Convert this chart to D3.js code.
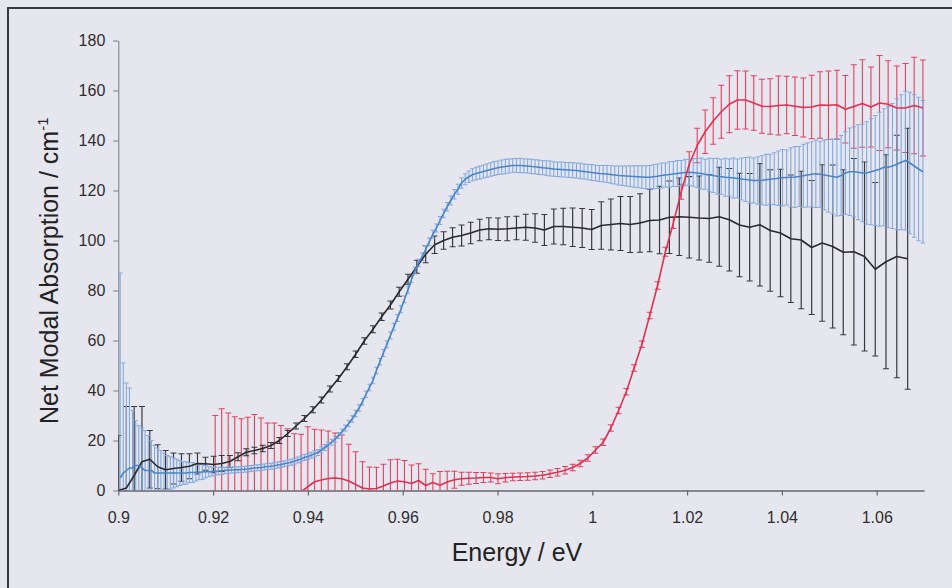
<!DOCTYPE html>
<html>
<head>
<meta charset="utf-8">
<script src="https://cdn.jsdelivr.net/npm/d3@7"></script>
<style>
  html, body { margin: 0; padding: 0; background: #e6e6ef; }
  svg { display: block; font-family: "Liberation Sans", Arial, sans-serif; }
</style>
</head>
<body>
<svg id="chart" width="952" height="588"></svg>
<script>
// Photon energy (eV) from wavelength (nm)
const HC = 1239.84;

// Axis ticks
const energyTicks = [0.9, 0.92, 0.94, 0.96, 0.98, 1, 1.02, 1.04, 1.06];
const absorptionTicks = [0, 20, 40, 60, 80, 100, 120, 140, 160, 180];

// Black series: measured every 2.5 nm
const blackWavelength = d3.range(1377.5, 1160, -2.5);
const blackMean = [
  0, 1, 6, 11.5, 12.5, 9.5, 8.3, 8.8, 9.2, 9.7,
  10.8, 10.7, 10.4, 10.8, 11.6, 13.5, 15.3, 16, 16.8, 18,
  20, 22.8, 25.8, 28.8, 32.3, 36.2, 40.6, 44.8, 49.5, 54.5,
  59.8, 64.5, 69.5, 74.2, 79.5, 84.5, 89.5, 94.5, 98.3, 100,
  101.3, 102, 103, 104.2, 104.7, 104.5, 104.7, 105, 105.3, 105,
  104.2, 105.6, 105.6, 105.3, 105, 104.4, 106, 106.4, 106.8, 106.4,
  107, 108, 108.2, 109.3, 109.5, 109.3, 109, 108.8, 109.5, 108.3,
  106.2, 105.3, 106.3, 104, 103, 100.7, 100.2, 97.2, 99, 97.6,
  95.3, 95.5, 93.6, 88.5, 91.5, 93.6, 92.7
];
const blackError = [
  22, 32.6, 27.6, 22.1, 11.5, 8.8, 7.7, 6.2, 5.5, 5,
  4.2, 2.6, 3.3, 3.2, 2.4, 1.6, 1.4, 1.3, 1.3, 1.2,
  1.2, 1.2, 1.2, 1.2, 1.2, 1.2, 1.2, 1.2, 1.2, 1.3,
  1.3, 1.4, 1.5, 1.6, 1.8, 2.0, 2.6, 3.4, 3.5, 3.5,
  3.8, 4.2, 4.3, 4.3, 4.4, 4.5, 4.8, 4.7, 5.2, 5.7,
  6.2, 7, 7.3, 7.7, 7.8, 8, 9.5, 10.2, 10.8, 11.2,
  11.7, 12.5, 13.5, 14.5, 15.5, 16.3, 16.8, 17.5, 19.8, 20.5,
  20.7, 21.5, 24.5, 24.3, 25.5, 25.5, 27.5, 26.8, 31.3, 32.6,
  33, 37.3, 37.8, 34.7, 42.8, 48.5, 52.2
];

// Blue series: measured every 1 nm
const blueWavelength = d3.range(1377, 1158, -1);
const blueMean = [
  5, 7, 8, 9, 9, 10, 10, 9, 8, 8,
  8, 7, 7, 7, 7, 7, 7, 7, 7, 7,
  7, 7, 7.2, 7.2, 7.3, 7.3, 7.4, 7.5, 7.5, 7.6,
  7.7, 7.8, 7.9, 8, 8.1, 8.2, 8.3, 8.3, 8.4, 8.5,
  8.6, 8.8, 9, 9.1, 9.2, 9.4, 9.6, 9.7, 9.9, 10.2,
  10.4, 10.7, 11, 11.3, 11.7, 12.2, 12.6, 13.2, 13.6, 14.1,
  14.7, 15.2, 16.2, 17.2, 18.2, 19.3, 20.5, 22, 23.4, 25,
  26.8, 28.6, 30.8, 33, 35.5, 38.5, 41.2, 44, 48, 51.5,
  55, 58.5, 62, 65.5, 69, 72.5, 76.5, 80.3, 84.5, 88,
  91, 93.5, 96.5, 99.5, 102.5, 105, 108, 110.8, 113.5, 116,
  118.5, 120.5, 123, 124.5, 125.5, 126.3, 126.8, 127.2, 127.6, 128,
  128.4, 128.8, 129.1, 129.4, 129.6, 129.8, 130, 130, 130, 129.9,
  129.8, 129.6, 129.5, 129.3, 129.1, 129, 128.8, 128.6, 128.5, 128.4,
  128.3, 128.2, 128.1, 128, 127.8, 127.6, 127.4, 127.2, 127, 126.8,
  126.7, 126.6, 126.4, 126.2, 126, 125.9, 125.8, 125.7, 125.6, 125.5,
  125.4, 125.3, 125.3, 125.5, 125.7, 126, 126.2, 126.4, 126.6, 126.8,
  127, 127.2, 127.3, 127.2, 127, 126.8, 126.5, 126.3, 126, 125.7,
  125.5, 125.3, 125.2, 125, 124.8, 124.6, 124.4, 124.2, 124, 124,
  124.1, 124.3, 124.5, 124.7, 124.9, 125.1, 125.2, 125.3, 125.4, 125.6,
  125.9, 126.2, 126.5, 126.7, 126.5, 126.2, 125.9, 125.6, 125.3, 126,
  127, 127.5, 127.5, 127.3, 127, 127, 127.5, 128, 128.5, 129.3,
  129.3, 129.8, 130.5, 131.3, 132, 131, 129.8, 128.6, 127.5
];
const blueError = [
  82, 44, 35, 32, 23, 18, 16, 16, 16, 14,
  12, 11, 10, 9, 8, 7, 6.5, 6, 5.5, 5,
  4.5, 4.5, 4, 4, 3.5, 3, 3, 2.5, 2, 1.8,
  1.6, 1.5, 1.4, 1.3, 1.3, 1.2, 1.2, 1.2, 1.2, 1.2,
  1.2, 1.2, 1.2, 1.2, 1.2, 1.2, 1.2, 1.2, 1.2, 1.2,
  1.2, 1.2, 1.2, 1.2, 1.2, 1.2, 1.2, 1.2, 1.2, 1.2,
  1.2, 1.2, 1.2, 1.2, 1.2, 1.2, 1.2, 1.2, 1.2, 1.2,
  1.3, 1.3, 1.3, 1.3, 1.3, 1.3, 1.3, 1.3, 1.3, 1.3,
  1.4, 1.4, 1.4, 1.4, 1.4, 1.4, 1.4, 1.4, 1.4, 1.4,
  1.5, 1.5, 1.5, 1.5, 1.6, 1.6, 1.6, 1.7, 1.7, 1.8,
  1.9, 2, 2.1, 2.2, 2.3, 2.4, 2.5, 2.6, 2.6, 2.7,
  2.7, 2.8, 2.7, 2.8, 2.9, 2.8, 2.7, 2.8, 2.9, 2.8,
  2.8, 2.9, 2.8, 2.9, 2.8, 2.9, 3, 2.9, 2.9, 3,
  2.9, 3, 3, 3, 3.1, 3, 3.1, 3.2, 3.1, 3.2,
  3.3, 3.4, 3.5, 3.6, 3.8, 3.9, 4, 4.2, 4.3, 4.4,
  4.5, 4.6, 4.7, 4.8, 4.9, 5, 4.8, 5.1, 5, 5.2,
  5, 5.3, 5.1, 5.5, 5.8, 6.2, 6, 6.6, 6.8, 7.2,
  7, 7.6, 7.4, 8, 7.8, 8.4, 8.8, 9.2, 9, 9.5,
  9.8, 10.2, 10, 10.4, 10.9, 11.3, 11, 11.8, 12.2, 12,
  12.6, 12.8, 13, 13.5, 13.2, 14, 14.6, 15, 15.5, 16,
  16.5, 17.5, 18, 19, 19.5, 20.5, 21.2, 22, 22.8, 23.4,
  24.2, 25, 26.2, 27, 27.8, 28.3, 28.5, 28.7, 28.5
];

// Red series: measured every 2 nm
const redWavelength = d3.range(1347, 1158, -2);
const redMean = [
  -1, -1, -1, -1, -1, -1, -1, -1, -1, -1,
  -1, -1, -1, -0.5, 1.5, 3.5, 4.2, 4.8, 5, 4.7,
  3.8, 2.4, 1, 0.6, 0.8, 1.8, 3, 3.8, 3.5, 2.8,
  4, 2, 3.2, 2.1, 3.4, 4.3, 4.7, 4.9, 5, 5.2,
  5.2, 4.7, 5.1, 5.4, 5.5, 5.6, 5.8, 6.1, 6.7, 7.3,
  8.1, 9.2, 10.8, 13, 16.2, 19.3, 25, 32, 39.5, 49,
  58.5, 70, 82, 95.5, 107, 119.5, 130.5, 138, 143.5, 147.8,
  151.5, 154.5, 156.2, 156.2, 155, 153.7, 153.6, 154, 154.2, 153.7,
  153.2, 153.4, 154.2, 154.1, 154.3, 152.5, 153.6, 154.8, 153.4, 155,
  154.5, 153, 153, 154, 153
];
const redError = [
  31, 33.7, 32, 30.5, 29.7, 30.3, 31.4, 30, 28, 28,
  27, 25.7, 23.7, 23, 24, 21, 20, 19, 18, 17.5,
  14.7, 13.1, 10.5, 8.8, 8.5, 8.7, 9.3, 8.7, 8.5, 7.4,
  6.7, 6.5, 3.5, 5.5, 4.3, 3.4, 2.6, 2.4, 2.2, 2,
  1.8, 2, 1.7, 1.5, 1.5, 1.5, 1.5, 1.5, 1.5, 1.5,
  1.5, 1.3, 1.3, 1.3, 1.3, 1.3, 1.3, 1.3, 1.3, 1.3,
  1.3, 1.3, 1.5, 1.8, 2.2, 3, 5, 6.9, 8.7, 9.3,
  10.6, 11.4, 11.7, 11.6, 10.9, 10.8, 11.1, 11.8, 11.5, 11.7,
  11.8, 12.7, 13.3, 13.7, 13.8, 13.5, 16.7, 17.5, 16, 19,
  17.4, 16.8, 17.8, 19.3, 19.2
];

const svg = d3.select("#chart");
const W = 952, H = 588;

// Page background and frame
svg.append("rect").attr("width", W).attr("height", H).attr("fill", "#e6e6ef");
svg.append("path").attr("d", "M8,588V8H952")
  .attr("fill", "none").attr("stroke", "#3c3c40").attr("stroke-width", 2);

const x = d3.scaleLinear().domain([0.9, 1.07]).range([118.3, 924.1]);
const y = d3.scaleLinear().domain([0, 180]).range([490.5, 40.5]);

// Clip data marks to the plot area
svg.append("clipPath").attr("id", "plotClip")
  .append("rect").attr("x", x(0.9)).attr("y", y(180))
  .attr("width", x(1.07) - x(0.9) + 4).attr("height", y(0) - y(180));

// Axes
const yAxis = svg.append("g").attr("transform", `translate(${x(0.9)},0)`)
  .call(d3.axisLeft(y).tickValues(absorptionTicks).tickSize(5).tickSizeOuter(0).tickPadding(8));
yAxis.select(".domain").attr("stroke", "#8a8a90").attr("stroke-width", 1.2);
yAxis.selectAll(".tick line").attr("stroke", "#8a8a90").attr("stroke-width", 1.2);
yAxis.selectAll(".tick text").attr("font-size", 16).attr("fill", "#2e2e2e")
  .attr("font-family", "Liberation Sans, Arial, sans-serif");

const xAxis = svg.append("g").attr("transform", `translate(0,${y(0)})`)
  .call(d3.axisBottom(x).tickValues(energyTicks).tickFormat(d => String(d))
    .tickSize(5).tickSizeOuter(0).tickPadding(16));
xAxis.select(".domain").attr("stroke", "#66666c").attr("stroke-width", 1.6);
xAxis.selectAll(".tick line").attr("stroke", "#66666c").attr("stroke-width", 1.2);
xAxis.selectAll(".tick text").attr("font-size", 16).attr("fill", "#2e2e2e")
  .attr("font-family", "Liberation Sans, Arial, sans-serif");

// Axis titles
svg.append("text")
  .attr("x", 517).attr("y", 561)
  .attr("text-anchor", "middle").attr("font-size", 25).attr("fill", "#222")
  .text("Energy / eV");

const yTitle = svg.append("text")
  .attr("transform", "translate(58,424) rotate(-90)")
  .attr("text-anchor", "start").attr("font-size", 25).attr("fill", "#222");
yTitle.append("tspan").text("Net Modal Absorption / cm");
yTitle.append("tspan").attr("dy", -10).attr("font-size", 15).text("-1");

// Series
function toPoints(wl, mean, err) {
  return wl.map((l, i) => ({ e: HC / l, v: mean[i], d: err[i] }));
}
const blackPts = toPoints(blackWavelength, blackMean, blackError);
const bluePts = toPoints(blueWavelength, blueMean, blueError);
const redPts = toPoints(redWavelength, redMean, redError);

const plot = svg.append("g").attr("clip-path", "url(#plotClip)");

function errorBars(pts, color, width, cap) {
  plot.append("g")
    .attr("fill", "none").attr("stroke", color).attr("stroke-width", width)
    .selectAll("path").data(pts).join("path")
    .attr("d", p => {
      const X = x(p.e), lo = y(p.v - p.d), hi = y(p.v + p.d);
      return `M${X},${lo}V${hi}M${X - cap},${hi}H${X + cap}M${X - cap},${lo}H${X + cap}`;
    });
}
function meanLine(pts, color, width) {
  plot.append("path").datum(pts)
    .attr("fill", "none").attr("stroke", color).attr("stroke-width", width)
    .attr("stroke-linejoin", "round")
    .attr("d", d3.line().x(p => x(p.e)).y(p => y(p.v)));
}

errorBars(redPts, "#e2405f", 1.1, 3);
errorBars(blackPts, "#38383c", 1.2, 3);
errorBars(bluePts, "#82a9de", 1.1, 2.2);
meanLine(blackPts, "#2a2a2e", 1.6);
meanLine(bluePts, "#4a84c8", 1.6);
meanLine(redPts, "#e0304f", 1.6);
</script>
</body>
</html>
